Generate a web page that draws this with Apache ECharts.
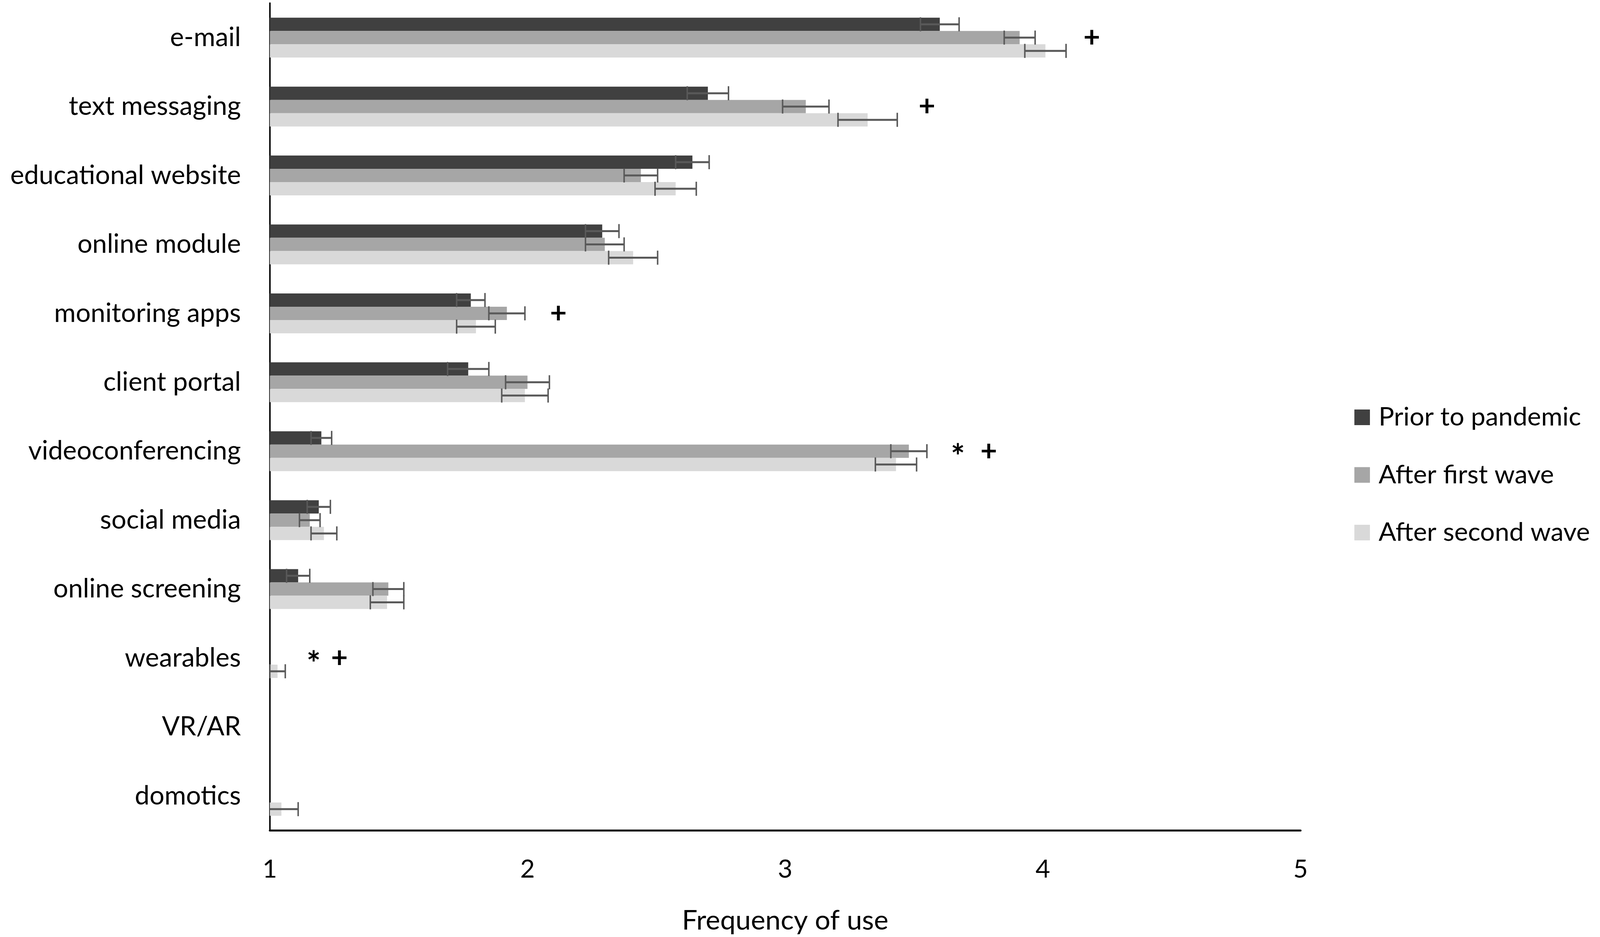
<!DOCTYPE html>
<html>
<head>
<meta charset="utf-8">
<script src="https://cdn.jsdelivr.net/npm/echarts@6/dist/echarts.min.js"></script>
<style>
  html, body { margin: 0; padding: 0; background: #fff; overflow: hidden; }
  #chart { width: 100vw; height: 100vh; }
</style>
</head>
<body>
<div id="chart"></div>
<script>
// --- data ---
const categories = ['e-mail', 'text messaging', 'educational website', 'online module',
    'monitoring apps', 'client portal', 'videoconferencing', 'social media',
    'online screening', 'wearables', 'VR/AR', 'domotics'];

const seriesNames = ['Prior to pandemic', 'After first wave', 'After second wave'];

const prior     = [3.60, 2.70, 2.64, 2.29, 1.78, 1.77, 1.20, 1.19, 1.11, 1.00, 1.00, 1.00];
const priorErr  = [0.075, 0.08, 0.065, 0.065, 0.055, 0.08, 0.04, 0.045, 0.045, 0, 0, 0];
const first     = [3.91, 3.08, 2.44, 2.30, 1.92, 2.00, 3.48, 1.155, 1.46, 1.00, 1.00, 1.00];
const firstErr  = [0.06, 0.09, 0.065, 0.075, 0.07, 0.085, 0.07, 0.04, 0.06, 0, 0, 0];
const second    = [4.01, 3.32, 2.575, 2.41, 1.80, 1.99, 3.43, 1.21, 1.455, 1.03, 1.00, 1.045];
const secondErr = [0.08, 0.115, 0.08, 0.095, 0.075, 0.09, 0.08, 0.05, 0.065, 0.03, 0, 0.065];

const xTicks = [1, 2, 3, 4, 5];

// significance marks: category, position on x, symbol
const annoCats = ['e-mail', 'text messaging', 'monitoring apps', 'videoconferencing', 'videoconferencing', 'wearables', 'wearables'];
const annoPos  = [4.19, 3.55, 2.12, 3.67, 3.79, 1.17, 1.27];
const annoText = ['+', '+', '+', '*', '+', '*', '+'];

// --- styles ---
const colors = ['#404040', '#a6a6a6', '#d9d9d9'];
const errColor = '#595959';
const FONT = 'Lato';

const el = document.getElementById('chart');
// layout was measured on a 4317x2398 figure; scale to the real viewport
const s = el.clientWidth / 4317;
const sy = el.clientHeight / 2398;
const px = v => v * s;
const py = v => v * sy;
const BAR_W = py(34);

const values = [prior, first, second];
const errs = [priorErr, firstErr, secondErr];

function errorRenderer(offset) {
    return function (params, api) {
        const v = api.value(0), c = api.value(1), e = api.value(2);
        if (!e) return;
        const lo = api.coord([v - e, c]);
        const hi = api.coord([v + e, c]);
        const y = lo[1] + offset;
        const h = py(18);
        const st = { stroke: errColor, lineWidth: px(4) };
        return {
            type: 'group',
            children: [
                { type: 'line', shape: { x1: lo[0], y1: y, x2: hi[0], y2: y }, style: { stroke: errColor, lineWidth: py(5) } },
                { type: 'line', shape: { x1: lo[0], y1: y - h, x2: lo[0], y2: y + h }, style: st },
                { type: 'line', shape: { x1: hi[0], y1: y - h, x2: hi[0], y2: y + h }, style: st }
            ]
        };
    };
}

const series = [];
values.forEach((vals, i) => {
    series.push({
        name: seriesNames[i],
        type: 'bar',
        data: vals,
        barWidth: BAR_W,
        barGap: '0%',
        itemStyle: { color: colors[i] },
        animation: false
    });
});
errs.forEach((ev, i) => {
    series.push({
        type: 'custom',
        renderItem: errorRenderer((i - 1) * BAR_W),
        data: values[i].map((v, k) => [v, k, ev[k]]),
        encode: { x: 0, y: 1 },
        clip: true,
        z: 5,
        silent: true,
        animation: false
    });
});
series.push({
    type: 'custom',
    data: annoPos.map((p, k) => [p, categories.indexOf(annoCats[k])]),
    encode: { x: 0, y: 1 },
    renderItem: function (params, api) {
        const pt = api.coord([api.value(0), api.value(1)]);
        const t = annoText[params.dataIndex];
        const star = t === '*';
        return {
            type: 'text',
            x: pt[0],
            y: pt[1] + (star ? px(18) : 0),
            style: {
                text: t,
                fontSize: star ? px(90) : px(78),
                fontWeight: 'bold', fontFamily: FONT,
                fill: '#000', align: 'center', verticalAlign: 'middle'
            }
        };
    },
    silent: true,
    animation: false
});

const chart = echarts.init(el);
chart.setOption({
    animation: false,
    grid: { left: px(728), right: px(808), top: py(8), bottom: py(273), containLabel: false },
    legend: {
        data: seriesNames,
        orient: 'vertical',
        left: px(3649),
        top: py(1063) - px(35),
        icon: 'rect',
        itemWidth: px(42),
        itemHeight: px(42),
        itemGap: py(147.5) - px(70),
        textStyle: { fontSize: px(70), fontFamily: FONT, color: '#000', lineHeight: px(70), padding: [0, 0, 0, px(18)] }
    },
    xAxis: {
        type: 'value',
        min: xTicks[0],
        max: xTicks[xTicks.length - 1],
        interval: 1,
        name: 'Frequency of use',
        nameLocation: 'middle',
        nameGap: py(196),
        nameTextStyle: { fontSize: px(74), fontFamily: FONT, color: '#000', verticalAlign: 'top' },
        axisLine: { show: true, lineStyle: { color: '#000', width: py(5) } },
        axisTick: { show: false },
        splitLine: { show: false },
        axisLabel: { fontSize: px(68), fontFamily: FONT, color: '#000', margin: py(68) }
    },
    yAxis: {
        type: 'category',
        data: categories,
        inverse: true,
        axisLine: { show: true, lineStyle: { color: '#000', width: px(4) } },
        axisTick: { show: false },
        axisLabel: { fontSize: px(71), fontFamily: FONT, color: '#000', margin: px(78) }
    },
    series: series
});
</script>
</body>
</html>
